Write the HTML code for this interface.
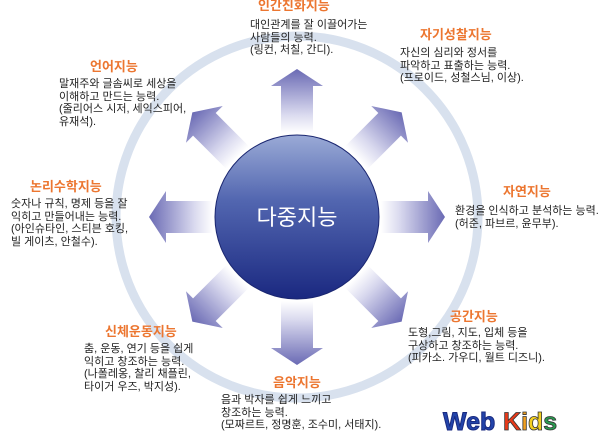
<!DOCTYPE html>
<html><head><meta charset="utf-8">
<style>
html,body{margin:0;width:608px;height:444px;overflow:hidden;}
body{background:#fff;position:relative;font-family:"Liberation Sans","Noto Sans CJK KR",sans-serif;}
.t{position:absolute;color:#ec7630;font-weight:bold;font-size:13px;line-height:14px;white-space:nowrap;}
.b{position:absolute;color:#222;font-size:11px;line-height:12.5px;white-space:nowrap;}
svg{position:absolute;left:0;top:0;}
</style></head><body>
<svg width="608" height="444" viewBox="0 0 608 444">
<defs>
<linearGradient id="ag" x1="0" y1="0" x2="1" y2="0">
<stop offset="0" stop-color="#fff"/>
<stop offset="0.3" stop-color="#d8d8ee"/>
<stop offset="1" stop-color="#6a6ab4"/>
</linearGradient>
<linearGradient id="cg" x1="0" y1="0" x2="0" y2="1">
<stop offset="0" stop-color="#9aaad6"/>
<stop offset="0.4" stop-color="#5266b0"/>
<stop offset="1" stop-color="#1a2880"/>
</linearGradient>
<g id="arr"><path d="M84,-16 L131,-16 L131,-26 L148,0 L131,26 L131,16 L84,16 Z" fill="url(#ag)"/></g>
</defs>
<circle cx="297" cy="217" r="181" fill="none" stroke="#d8e1ee" stroke-width="9"/>
<g transform="translate(297,217)">
<use href="#arr" transform="rotate(-90)"/>
<use href="#arr" transform="rotate(-45)"/>
<use href="#arr" transform="rotate(0)"/>
<use href="#arr" transform="rotate(45)"/>
<use href="#arr" transform="rotate(90)"/>
<use href="#arr" transform="rotate(135)"/>
<use href="#arr" transform="rotate(180)"/>
<use href="#arr" transform="rotate(-135)"/>
</g>
<circle cx="297" cy="217" r="82" fill="url(#cg)" stroke="#1a2670" stroke-width="1"/>
<text x="297" y="225" text-anchor="middle" fill="#fff" font-size="22" font-family="Liberation Sans,Noto Sans CJK KR,sans-serif">다중지능</text>
<text x="443" y="430" font-size="25" font-weight="bold" font-family="Liberation Sans,sans-serif" fill="#2244aa" stroke="#1a2a80" stroke-width="1">Web</text>
<text x="503" y="430" font-size="25" font-weight="bold" font-family="Liberation Sans,sans-serif" stroke="#333" stroke-width="0.8"><tspan fill="#e83a1a">K</tspan><tspan fill="#f0a020">i</tspan><tspan fill="#f4d020">d</tspan><tspan fill="#2a9a50">s</tspan></text>
</svg>
<div class="t" style="left:258px;top:-1px">인간친화지능</div>
<div class="b" style="left:250px;top:19px">대인관계를 잘 이끌어가는<br>사람들의 능력.<br>(링컨, 처칠, 간디).</div>
<div class="t" style="left:420px;top:28px">자기성찰지능</div>
<div class="b" style="left:400px;top:47px">자신의 심리와 정서를<br>파악하고 표출하는 능력.<br>(프로이드, 성철스님, 이상).</div>
<div class="t" style="left:90px;top:60px">언어지능</div>
<div class="b" style="left:59px;top:78px">말재주와 글솜씨로 세상을<br>이해하고 만드는 능력.<br>(줄리어스 시저, 세익스피어,<br>유재석).</div>
<div class="t" style="left:30px;top:180px">논리수학지능</div>
<div class="b" style="left:11px;top:198px">숫자나 규칙, 명제 등을 잘<br>익히고 만들어내는 능력.<br>(아인슈타인, 스티븐 호킹,<br>빌 게이츠, 안철수).</div>
<div class="t" style="left:503px;top:185px">자연지능</div>
<div class="b" style="left:455px;top:205px">환경을 인식하고 분석하는 능력.<br>(허준, 파브르, 윤무부).</div>
<div class="t" style="left:450px;top:310px">공간지능</div>
<div class="b" style="left:408px;top:327px">도형,그림, 지도, 입체 등을<br>구상하고 창조하는 능력.<br>(피카소. 가우디, 월트 디즈니).</div>
<div class="t" style="left:105px;top:325px">신체운동지능</div>
<div class="b" style="left:84px;top:343px">춤, 운동, 연기 등을 쉽게<br>익히고 창조하는 능력.<br>(나폴레옹, 찰리 채플린,<br>타이거 우즈, 박지성).</div>
<div class="t" style="left:273px;top:376px">음악지능</div>
<div class="b" style="left:221px;top:394px">음과 박자를 쉽게 느끼고<br>창조하는 능력.<br>(모짜르트, 정명훈, 조수미, 서태지).</div>
</body></html>
